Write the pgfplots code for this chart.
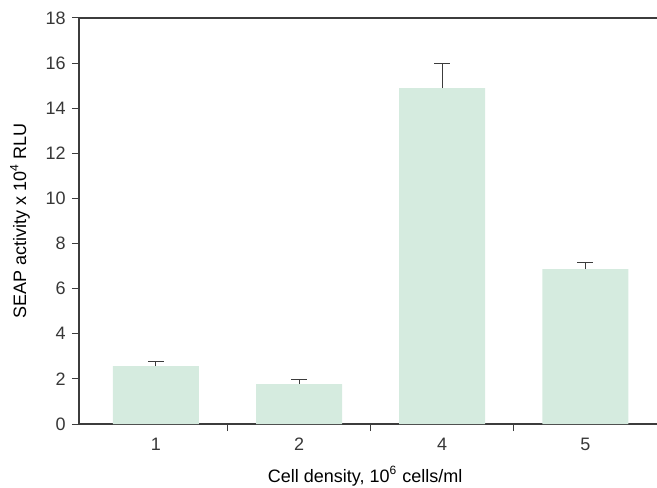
\documentclass[border=0pt]{standalone}
\usepackage{pgfplots}
\pgfplotsset{compat=1.18}
\usepackage{fontspec}
\setmainfont{Liberation Sans}
\definecolor{barfill}{RGB}{213,235,223}
\definecolor{axgray}{RGB}{60,60,60}
\definecolor{txtgray}{RGB}{55,55,55}
\begin{document}
\fontsize{9}{11}\selectfont
\begin{tikzpicture}
\begin{axis}[
  scale only axis,
  width=289pt, height=203pt,
  xmin=0.4634, xmax=4.5,
  ymin=0, ymax=18,
  axis x line*=box, axis y line*=left,
  xtick pos=bottom,
  axis line style={draw=axgray, line width=0.6pt},
  ytick={0,2,...,18},
  xtick={1.5,2.5,3.5}, xticklabels={},
  extra x ticks={1,2,3,4},
  extra x tick labels={1,2,4,5},
  extra x tick style={major tick length=0pt, xticklabel style={yshift=-4pt}},
  tick align=outside,
  major tick length=3.5pt,
  tick style={draw=axgray, line width=0.5pt},
  /pgf/number format/assume math mode=true,
  tick label style={font=\fontsize{9}{11}\selectfont, text=txtgray},
  label style={font=\fontsize{9}{11}\selectfont, text=txtgray},
  xlabel={Cell density, 10\textsuperscript{6} cells/ml},
  ylabel={SEAP activity x 10\textsuperscript{4} RLU},
  every axis x label/.style={at={(axis description cs:0.495,-0.143)}, anchor=base},
  every axis y label/.style={at={(axis description cs:-0.102,0.5)}, rotate=90, anchor=center},
  ybar, bar width=43pt,
]
\addplot[fill=barfill, draw=none,
  error bars/.cd, y dir=plus, y explicit,
  error bar style={draw=axgray, line width=0.5pt},
  error mark=|,
  error mark options={draw=axgray, line width=0.5pt, mark size=4pt}]
  coordinates {(1,2.57) +- (0,0.21) (2,1.77) +- (0,0.21) (3,14.89) +- (0,1.10) (4,6.87) +- (0,0.30)};
\end{axis}
\pgfresetboundingbox
\path[use as bounding box] (-39.5pt,-31.5pt) rectangle (289pt,212pt);
\end{tikzpicture}
\end{document}
